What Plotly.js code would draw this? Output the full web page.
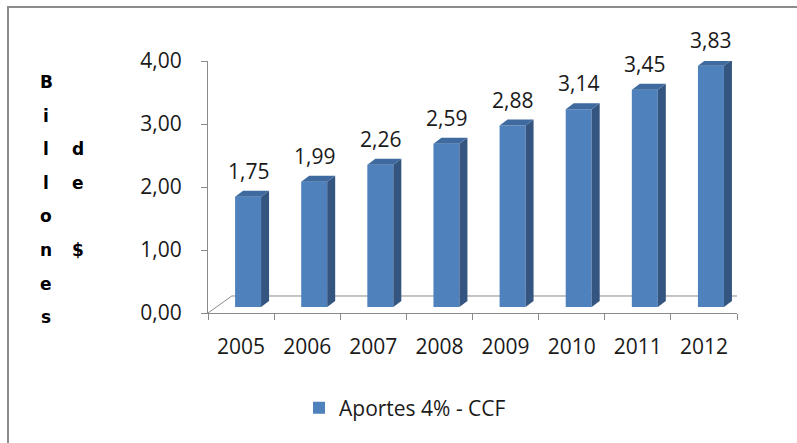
<!DOCTYPE html>
<html>
<head>
<meta charset="utf-8">
<script src="https://cdn.plot.ly/plotly-3.0.1.min.js"></script>
<style>
  html, body { margin: 0; padding: 0; background: #ffffff; }
  #chart { width: 797px; height: 443px; }
</style>
</head>
<body>
<div id="chart"></div>
<script>
// ---- data ----
const years = ['2005', '2006', '2007', '2008', '2009', '2010', '2011', '2012'];
const aportes = [1.75, 1.99, 2.26, 2.59, 2.88, 3.14, 3.45, 3.83];
const yTicks = [0, 1, 2, 3, 4];
const seriesName = 'Aportes 4% - CCF';
const yTitleColumns = ['Billones', 'de $'];

// ---- layout constants (pixels) ----
const W = 797, H = 443;
const M = { l: 208, r: 60, t: 61, b: 130 };
const PW = W - M.l - M.r, PH = H - M.t - M.b;
const px2paperX = p => (p - M.l) / PW;
const px2paperY = p => (H - M.b - p) / PH;

// 3D look parameters (in axis units)
const barW = 0.393, barShift = 0.106;
const depthX = 0.121, depthY = 0.095, baseLift = 0.095;
const floorDX = 0.36, floorDY = 0.27;

const FONT = 'Open Sans, DejaVu Sans, sans-serif';
const TFONT = 'DejaVu Sans, Open Sans, sans-serif';
const TXT = '#1a1a1a';
const AXC = '#8a8a8a';

const shapes = [];
// floor
shapes.push({
  type: 'path', xref: 'x2', yref: 'y', layer: 'below',
  path: `M -0.5,0 L ${-0.5 + floorDX},${floorDY} L ${7.5 + floorDX},${floorDY} L 7.5,0`,
  line: { color: AXC, width: 1 }
});
// bar side and top faces
aportes.forEach((v, i) => {
  const x0 = i + barShift - barW / 2, x1 = x0 + barW;
  const b = baseLift, t = baseLift + v;
  shapes.push({
    type: 'path', xref: 'x2', yref: 'y',
    path: `M ${x1},${b} L ${x1 + depthX},${b + depthY} L ${x1 + depthX},${t + depthY} L ${x1},${t} Z`,
    fillcolor: '#34557f', line: { width: 0 }
  });
  shapes.push({
    type: 'path', xref: 'x2', yref: 'y',
    path: `M ${x0},${t} L ${x0 + depthX},${t + depthY} L ${x1 + depthX},${t + depthY} L ${x1},${t} Z`,
    fillcolor: '#3e6a9f', line: { width: 0 }
  });
});
// outer frame (top and left edges visible)
shapes.push({
  type: 'path', xref: 'paper', yref: 'paper',
  path: `M ${px2paperX(8)},${px2paperY(450)} L ${px2paperX(8)},${px2paperY(7)} L ${px2paperX(805)},${px2paperY(7)}`,
  line: { color: '#8c8c8c', width: 2 }
});

const annotations = [];
// value labels
aportes.forEach((v, i) => {
  annotations.push({
    xref: 'x2', yref: 'y', x: i + barShift, y: baseLift + v,
    text: v.toFixed(2).replace('.', ','), showarrow: false,
    xanchor: 'center', yanchor: 'middle', yshift: 26,
    font: { family: FONT, size: 21, color: TXT }
  });
});
// stacked y-axis title
const colX = [46, 78];
const rowStart = [0, 2];
yTitleColumns.forEach((word, c) => {
  Array.from(word).forEach((ch, k) => {
    if (ch === ' ') return;
    const py = 82 + 33.6 * (rowStart[c] + k);
    annotations.push({
      xref: 'paper', yref: 'paper', x: px2paperX(colX[c]), y: px2paperY(py),
      text: ch, showarrow: false, xanchor: 'center', yanchor: 'middle',
      font: { family: TFONT, size: 17, color: '#000', weight: 'bold' }
    });
  });
});

const trace = {
  type: 'bar', name: seriesName,
  x: years, y: aportes, base: baseLift,
  width: barW, offset: barShift - barW / 2,
  marker: { color: '#4f81bd', line: { width: 0 } },
  hoverinfo: 'skip', showlegend: true
};

const layout = {
  width: W, height: H,
  margin: M,
  paper_bgcolor: '#ffffff', plot_bgcolor: 'rgba(0,0,0,0)',
  separators: ',.',
  font: { family: FONT, size: 21, color: TXT },
  xaxis: {
    type: 'category', range: [-0.5, 7.5], fixedrange: true,
    showline: true, linecolor: AXC, linewidth: 1,
    ticks: 'outside', tickson: 'boundaries', ticklen: 6, tickcolor: AXC,
    ticklabelstandoff: 15,
    tickfont: { family: FONT, size: 21, color: TXT },
    showgrid: false, zeroline: false
  },
  xaxis2: { overlaying: 'x', range: [-0.5, 7.5], visible: false, anchor: 'y', fixedrange: true },
  yaxis: {
    range: [0, 4], tickvals: yTicks, tickformat: '.2f', fixedrange: true,
    showline: true, linecolor: AXC, linewidth: 1,
    ticks: 'outside', ticklen: 6, tickcolor: AXC,
    ticklabelstandoff: 15,
    tickfont: { family: FONT, size: 21, color: TXT },
    showgrid: false, zeroline: false
  },
  showlegend: true,
  legend: {
    orientation: 'h', x: px2paperX(299), xanchor: 'left',
    y: px2paperY(408), yanchor: 'middle',
    font: { family: FONT, size: 21, color: TXT },
    bgcolor: 'rgba(0,0,0,0)'
  },
  shapes: shapes,
  annotations: annotations
};

Plotly.newPlot('chart', [trace], layout, { displayModeBar: false, staticPlot: true });
</script>
</body>
</html>
